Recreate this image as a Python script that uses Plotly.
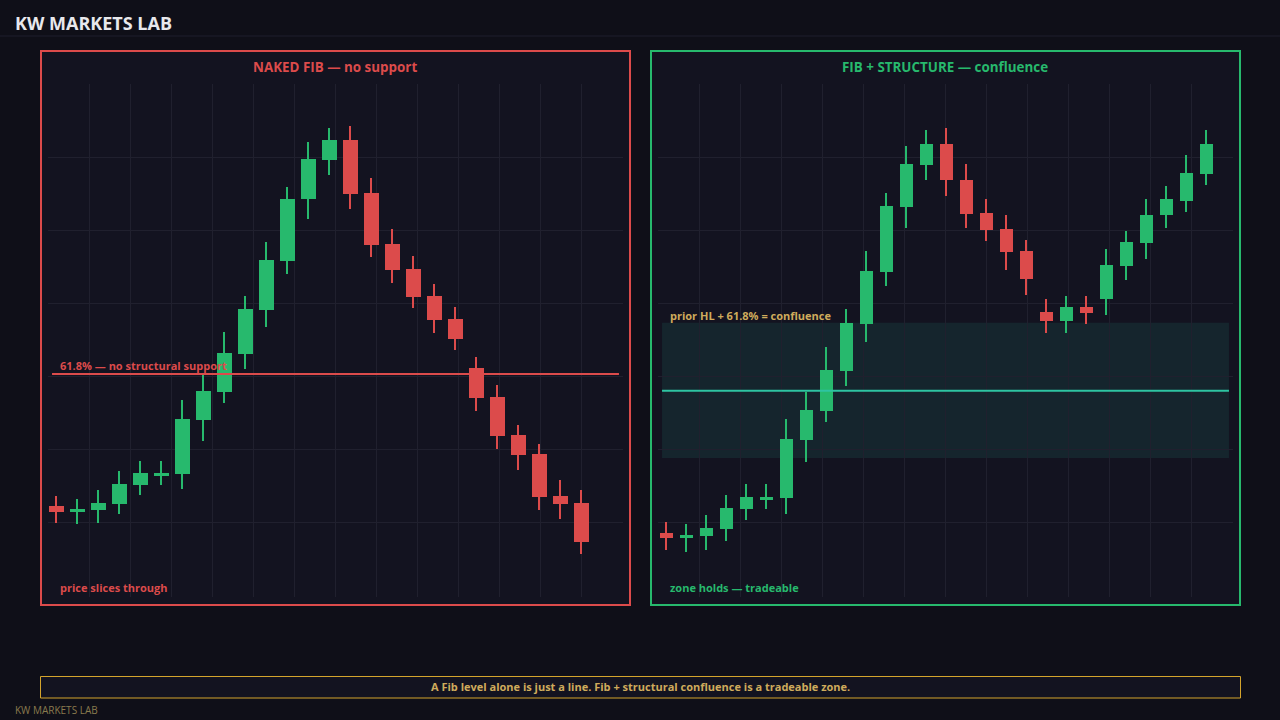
import plotly.graph_objects as go

# ---------------- data ----------------
left_open  = [102.2, 101.4, 101.7, 102.5, 105.1, 106.3, 106.6, 114.0, 117.8, 123.1, 129.1, 135.8, 144.2,
              149.6, 152.4, 145.1, 138.1, 134.7, 131.0, 127.8, 121.1, 117.2, 112.0, 109.4, 103.6, 102.6]
left_high  = [103.6, 103.2, 104.4, 107.0, 108.4, 108.4, 116.8, 120.2, 126.1, 131.0, 138.4, 145.9, 152.1,
              154.0, 154.3, 147.2, 140.2, 136.5, 132.6, 129.5, 122.6, 118.8, 113.3, 110.7, 105.8, 104.4]
left_low   = [99.9, 99.7, 99.9, 101.1, 103.7, 105.1, 104.6, 111.1, 116.3, 121.0, 126.8, 134.0, 141.5,
              147.6, 142.9, 136.3, 132.8, 129.4, 125.9, 123.6, 115.2, 110.0, 107.2, 101.7, 100.5, 95.7]
left_close = [101.4, 101.8, 102.6, 105.2, 106.8, 106.8, 114.2, 118.0, 123.2, 129.2, 135.9, 144.3, 149.8,
              152.4, 145.0, 138.0, 134.6, 130.9, 127.7, 125.1, 117.0, 111.8, 109.2, 103.5, 102.5, 97.3]
left_fib = 120.3

right_open  = [98.5, 97.9, 98.1, 99.1, 101.8, 103.1, 103.3, 111.3, 115.2, 120.7, 127.2, 134.3, 143.2, 148.9,
               151.8, 146.9, 142.4, 140.2, 137.2, 128.8, 127.6, 129.5, 130.6, 135.1, 138.3, 142.0, 144.0, 147.7]
right_high  = [100.0, 99.8, 101.0, 103.7, 105.2, 105.2, 114.2, 117.8, 124.0, 129.2, 137.2, 145.1, 151.5, 153.7,
               154.0, 149.1, 144.2, 142.1, 138.7, 130.5, 131.0, 131.0, 137.4, 139.9, 144.2, 146.1, 150.3, 153.7]
right_low   = [96.2, 95.9, 96.2, 97.4, 100.3, 101.8, 101.1, 108.3, 113.7, 118.7, 124.7, 132.4, 140.3, 146.8,
               144.7, 140.3, 138.5, 134.6, 131.1, 125.9, 125.9, 127.2, 128.4, 133.1, 136.1, 140.3, 142.5, 146.2]
right_close = [97.9, 98.2, 99.2, 102.0, 103.5, 103.5, 111.4, 115.4, 120.9, 127.3, 134.4, 143.3, 149.1, 151.8,
               146.8, 142.2, 140.0, 137.0, 133.3, 127.6, 129.5, 128.7, 135.2, 138.4, 142.1, 144.2, 147.8, 151.8]
zone_top, zone_bottom, zone_level = 127.3, 108.8, 118.0

page_title = "KW MARKETS LAB"
left_title = "NAKED FIB — no support"
right_title = "FIB + STRUCTURE — confluence"
left_level_label = "61.8% — no structural support"
right_level_label = "prior HL + 61.8% = confluence"
left_foot = "price slices through"
right_foot = "zone holds — tradeable"
banner = "A Fib level alone is just a line. Fib + structural confluence is a tradeable zone."
footer = "KW MARKETS LAB"

# ---------------- style ----------------
W, H = 1280, 720
BG = "#0f0f18"
PANEL = "#131320"
GRID = "#20202e"
RED = "#dc4b4b"
GREEN = "#27b96d"
TEAL = "#2ec4a2"
GOLD = "#d4a42c"
GOLD_TXT = "#cfab5c"
FONT = "Open Sans"


def px(x):
    return x / W


def py(y):
    return 1 - y / H


def candle_traces(o, h, l, c, xa, ya, body_w, wick_w):
    xs = list(range(len(o)))
    cols = [GREEN if cc >= oo else RED for oo, cc in zip(o, c)]
    wick = go.Bar(x=xs, base=l, y=[hh - ll for hh, ll in zip(h, l)], width=wick_w,
                  marker=dict(color=cols, line=dict(width=0)), xaxis=xa, yaxis=ya,
                  hoverinfo="skip", showlegend=False)
    body = go.Bar(x=xs, base=[min(a, b) for a, b in zip(o, c)],
                  y=[max(abs(b - a), 0.25) for a, b in zip(o, c)], width=body_w,
                  marker=dict(color=cols, line=dict(width=0)), xaxis=xa, yaxis=ya,
                  hoverinfo="skip", showlegend=False)
    return [wick, body]


fig = go.Figure()
for t in candle_traces(left_open, left_high, left_low, left_close, "x", "y", 0.71, 0.1):
    fig.add_trace(t)
for t in candle_traces(right_open, right_high, right_low, right_close, "x2", "y2", 0.65, 0.1):
    fig.add_trace(t)

ydom = [py(597), py(84)]
yrange = [89.77, 160.0]
ytick = [100, 110, 120, 130, 140, 150]
axis_common = dict(showline=False, zeroline=False, showticklabels=False, ticks="",
                   gridcolor=GRID, gridwidth=1, fixedrange=True)

fig.update_layout(
    width=W, height=H, margin=dict(l=0, r=0, t=0, b=0),
    paper_bgcolor=BG, plot_bgcolor="rgba(0,0,0,0)",
    barmode="overlay", bargap=0, showlegend=False,
    font=dict(family=FONT, color="#e6e6e6"),
    xaxis=dict(domain=[px(48), px(623)], range=[-0.395, 26.99], tickmode="array",
               tickvals=[1.571 + 1.952 * k for k in range(13)], **axis_common),
    yaxis=dict(domain=ydom, range=yrange, tickmode="array", tickvals=ytick, **axis_common),
    xaxis2=dict(domain=[px(658), px(1233)], range=[-0.4, 28.35], tickmode="array",
                tickvals=[1.65 + 2.05 * k for k in range(13)], anchor="y2", **axis_common),
    yaxis2=dict(domain=ydom, range=yrange, tickmode="array", tickvals=ytick, anchor="x2", **axis_common),
)

shapes = [
    # header separator
    dict(type="line", xref="paper", yref="paper", x0=0, x1=1, y0=py(36), y1=py(36),
         line=dict(color="#1e1f2d", width=1), layer="below"),
    # panels
    dict(type="rect", xref="paper", yref="paper", x0=px(41), x1=px(630), y0=py(605), y1=py(51),
         fillcolor=PANEL, line=dict(color=RED, width=2), layer="below"),
    dict(type="rect", xref="paper", yref="paper", x0=px(651), x1=px(1240), y0=py(605), y1=py(51),
         fillcolor=PANEL, line=dict(color=GREEN, width=2), layer="below"),
    # banner
    dict(type="rect", xref="paper", yref="paper", x0=px(40.5), x1=px(1240.5), y0=py(698), y1=py(676.5),
         fillcolor=PANEL, line=dict(color=GOLD, width=1), layer="below"),
    # confluence zone
    dict(type="rect", xref="x2 domain", yref="y2", x0=0.007, x1=0.993, y0=zone_bottom, y1=zone_top,
         fillcolor="rgba(40,200,170,0.10)", line=dict(width=0), layer="below"),
    dict(type="line", xref="x2 domain", yref="y2", x0=0.007, x1=0.993, y0=zone_level, y1=zone_level,
         line=dict(color=TEAL, width=2), layer="above"),
    # naked fib line
    dict(type="line", xref="x domain", yref="y", x0=0.007, x1=0.993, y0=left_fib, y1=left_fib,
         line=dict(color=RED, width=2), layer="above"),
]
fig.update_layout(shapes=shapes)


def ann(text, x, y, size, color, bold=True, xanchor="left"):
    return dict(text=f"<b>{text}</b>" if bold else text, x=px(x), y=py(y), xref="paper", yref="paper",
                xanchor=xanchor, yanchor="middle", showarrow=False,
                font=dict(family=FONT, size=size, color=color))


annotations = [
    ann(page_title, 13, 23, 18, "#e8e8ec"),
    ann(left_title, 335, 67, 13.4, RED, xanchor="center"),
    ann(right_title, 945, 67, 13.4, GREEN, xanchor="center"),
    ann(left_level_label, 58, 365, 11, RED),
    ann(right_level_label, 668, 315, 11, GOLD_TXT),
    ann(left_foot, 58, 587, 11, RED),
    ann(right_foot, 668, 587, 11, GREEN),
    ann(banner, 640, 686, 11, GOLD_TXT, xanchor="center"),
    ann(footer, 13, 710, 10, "#8a7a4e", bold=False),
]
fig.update_layout(annotations=annotations)

fig.write_html("out.html", config={"displayModeBar": False, "staticPlot": True},
               post_script="document.body.style.margin='0';document.body.style.background='#0f0f18';")
